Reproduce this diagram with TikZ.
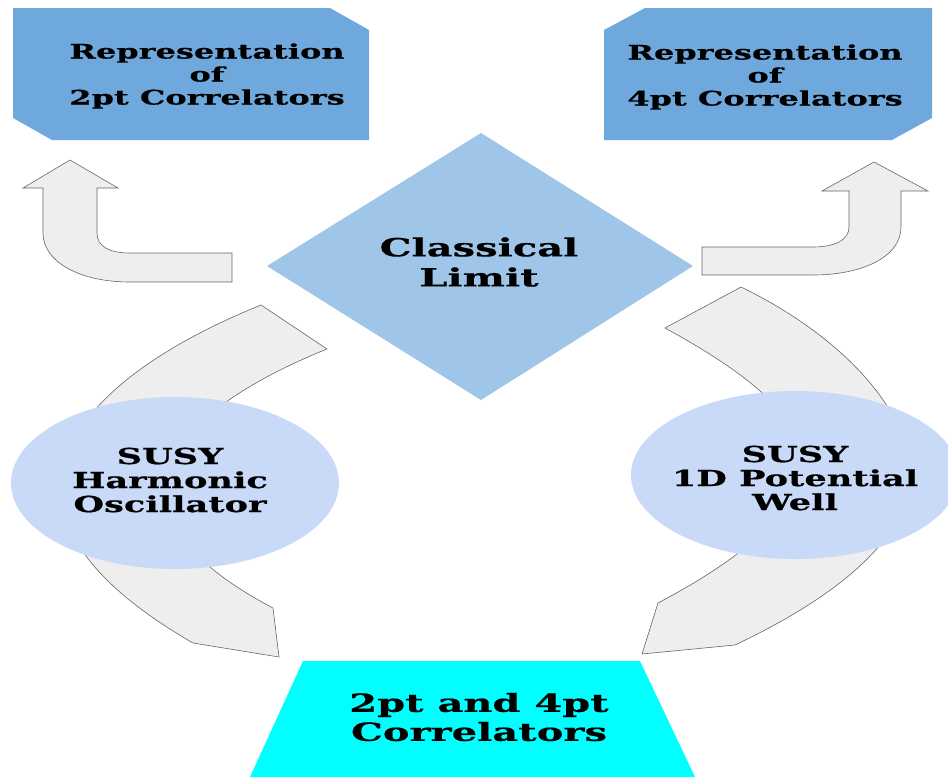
\documentclass[tikz,border=0pt]{standalone}
\usepackage{fontspec}
\setmainfont{DejaVu Serif}[FakeStretch=1.6,BoldFeatures={FakeBold=0.6}]
\usepackage{tikz}
\usetikzlibrary{shapes.geometric}
\definecolor{boxblue}{HTML}{6FA8DC}
\definecolor{diablue}{HTML}{9FC5E8}
\definecolor{ovalblue}{HTML}{C9DAF8}
\definecolor{arrgray}{HTML}{EEEEEE}
\definecolor{corrcyan}{HTML}{00FFFF}

\begin{document}
\begin{tikzpicture}[x=1pt,y=-1pt,
                    arrowshape/.style={fill=arrgray,draw=black!60,line width=0.6pt},
                    lbl/.style={font=\bfseries\fontsize{20}{23}\selectfont,align=center,inner sep=0pt}]
  \tikzstyle{oval}=[ellipse,fill=ovalblue,minimum width=328pt,minimum height=172pt,inner sep=0pt]

  \useasboundingbox (0,0) rectangle (948,777);

  % bent arrows at the top
  \draw[arrowshape] (70,160) -- (118,188) -- (97,188) -- (97,233)
        .. controls (97,247) and (110,253) .. (130,253) -- (232,253) -- (232,282) -- (130,282)
        .. controls (80,282) and (43,262) .. (43,233) -- (43,188) -- (23,188) -- cycle;
  \draw[arrowshape] (874,162) -- (928,191) -- (901,191) -- (901,227)
        .. controls (901,258) and (860,275) .. (813,275) -- (702,275) -- (702,247) -- (813,247)
        .. controls (835,247) and (849,240) .. (849,227) -- (849,191) -- (822,191) -- cycle;

  % curved arrows round the ovals
  \draw[arrowshape] (261,305) -- (327,349)
        .. controls (250,380) and (165,430) .. (165,490)
        .. controls (165,540) and (220,580) .. (273,608) -- (279,657) -- (193,643)
        .. controls (110,595) and (55,540) .. (62,478)
        .. controls (70,410) and (150,350) .. cycle;
  \draw[arrowshape] (741,287)
        .. controls (830,330) and (905,400) .. (910,470)
        .. controls (912,540) and (830,600) .. (735,645) -- (642,654) -- (658,603)
        .. controls (720,570) and (800,520) .. (800,460)
        .. controls (800,420) and (760,380) .. (665,328) -- cycle;

  % boxes
  \fill[boxblue] (13,8) -- (330,8) -- (369,30) -- (369,140) -- (52,140) -- (13,118) -- cycle;
  \fill[boxblue] (645,8) -- (932,8) -- (932,118) -- (892,140) -- (604,140) -- (604,30) -- cycle;
  \fill[diablue] (267,266) -- (481,133) -- (693,266) -- (481,400) -- cycle;
  \fill[corrcyan] (303,661) -- (640,661) -- (695,777) -- (250,777) -- cycle;

  \node[lbl] (rep2) at (207,76) {Representation\\of\\ 2pt Correlators};
  \node[lbl] (rep4) at (765,77) {Representation\\of\\4pt Correlators};
  \node[lbl,font=\bfseries\fontsize{25}{30}\selectfont] (cl) at (479,262) {Classical\\Limit};

  \node[oval] (sho) at (175,483) {};
  \node[oval,minimum height=168pt] (well) at (795,475) {};
  \node[lbl,font=\bfseries\fontsize{22}{24}\selectfont] (shotxt) at (170,480) {SUSY\\Harmonic\\Oscillator};
  \node[lbl,font=\bfseries\fontsize{22}{24}\selectfont] (welltxt) at (795,478) {SUSY\\1D Potential\\Well};

  \node[lbl,font=\bfseries\fontsize{25}{29}\selectfont] (corr) at (479,717) {2pt and 4pt\\Correlators};
\end{tikzpicture}
\end{document}
